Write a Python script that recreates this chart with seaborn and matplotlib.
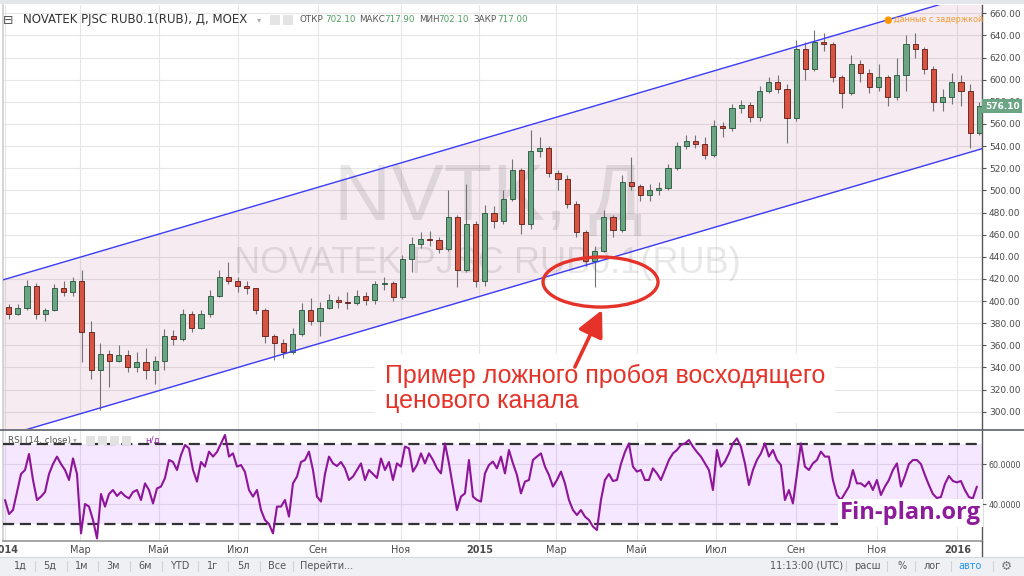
import numpy as np
import pandas as pd
import matplotlib
matplotlib.use("Agg")
import matplotlib.pyplot as plt
from matplotlib.patches import Ellipse, Rectangle
from matplotlib.lines import Line2D
import seaborn as sns

# NOVATEK (NVTK, MOEX), weekly candles, Jan 2014 - Jan 2016
first_open = 395.0
closes = [388, 394, 414, 388, 392, 412, 408, 418, 372, 338,
          352, 346, 351, 340, 345, 338, 346, 368, 366, 388,
          376, 388, 405, 422, 418, 414, 412, 392, 368, 362,
          354, 370, 392, 382, 394, 401, 399, 398, 405, 401,
          415, 416, 404, 438, 452, 456, 455, 447, 476, 428,
          470, 418, 480, 472, 492, 518, 470, 536, 538, 516,
          510, 488, 462, 436, 445, 476, 464, 508, 504, 496,
          500, 502, 520, 540, 545, 542, 532, 558, 556, 574,
          577, 566, 590, 598, 592, 565, 628, 610, 634, 632,
          602, 588, 614, 606, 593, 602, 584, 604, 632, 628,
          610, 580, 584, 598, 590, 552, 576.1]
highs = [397, 397, 419, 416, 394, 415, 418, 422, 428, 382,
         362, 356, 360, 356, 354, 358, 350, 375, 374, 393,
         391, 392, 410, 428, 435, 422, 418, 412, 394, 370,
         366, 376, 398, 403, 399, 406, 405, 408, 410, 408,
         418, 422, 418, 442, 458, 462, 463, 458, 500, 478,
         506, 472, 487, 486, 500, 528, 520, 555, 548, 540,
         518, 514, 490, 464, 450, 482, 478, 514, 530, 506,
         506, 508, 524, 544, 550, 550, 548, 564, 562, 578,
         582, 580, 594, 602, 604, 596, 636, 634, 645, 642,
         634, 604, 622, 618, 610, 614, 604, 620, 640, 642,
         630, 612, 592, 606, 604, 596, 580]
lows = [384, 387, 392, 384, 382, 391, 405, 405, 345, 330,
        302, 322, 345, 336, 336, 330, 325, 338, 360, 364,
        372, 375, 386, 404, 415, 408, 406, 388, 362, 347,
        349, 352, 368, 378, 368, 393, 394, 393, 396, 396,
        397, 410, 400, 402, 426, 448, 450, 443, 445, 413,
        426, 413, 414, 466, 470, 490, 461, 465, 530, 512,
        500, 484, 458, 432, 413, 444, 458, 462, 500, 490,
        490, 496, 500, 518, 537, 538, 528, 530, 548, 554,
        570, 562, 563, 588, 588, 543, 563, 600, 608, 626,
        598, 574, 586, 598, 588, 590, 576, 582, 590, 620,
        605, 572, 572, 578, 576, 538, 550]
last_price = 576.10

# RSI(14), sampled about every two sessions
rsi_step_days = 2.184
rsi_values = [42, 35, 37, 46, 55, 57, 65, 52, 42, 43.7,
              46, 55, 60, 63.7, 60, 57, 52, 62.8, 55, 25.3,
              40, 38.7, 32, 22.8, 45, 38.7, 45, 47, 44, 46,
              44, 42.8, 46, 47, 42, 50.3, 47, 40.3, 47.8, 48.7,
              53, 62, 61, 57, 64.5, 69.5, 67.8, 57, 51.2, 61,
              58.7, 66.2, 63.7, 66, 70.3, 74.5, 63.7, 65.3, 58.7, 59.5,
              56, 47, 43.7, 47, 37, 32, 30, 25.3, 38.7, 38.7,
              42, 33.7, 50.3, 53.7, 61, 62, 66.2, 57, 43.7, 41.2,
              55, 63.7, 60.3, 59, 61, 57.8, 52, 53.7, 57, 60.3,
              52, 57, 55, 53, 62.8, 57, 61, 52, 60.3,
              58.7, 68.7, 67.8, 56.2, 59.5, 65.3, 60.3, 65.3, 62, 57.8,
              55.3, 70.3, 60.3, 48.7, 37, 43.7, 45.3, 62, 43.7, 42,
              41.2, 55.3, 59.5, 61.2, 57.8, 63.7, 55.3, 67, 60.3, 54.5,
              45.3, 51.2, 52, 62, 63.7, 65.3, 58.7, 54.5, 48.7, 52,
              56.2, 50.3, 42, 37, 34.5, 37, 33.7, 32, 28.7, 27,
              42, 52, 55, 51.5, 52, 60, 66, 70.3, 58.7, 56.2,
              57, 52, 52, 57.8, 55.3, 52, 57, 62, 65.3, 67,
              69.5, 70.3, 72, 68.7, 66, 63.7, 60.3, 57, 47, 67,
              58.7, 61.2, 65.3, 70.3, 72.8, 68.7, 60.3, 49.5, 57, 62,
              65.3, 70.3, 63.7, 67, 62, 59.5, 42, 47, 40.3, 55,
              70.3, 58.7, 57, 60.3, 62, 66.2, 63.7, 63.7, 52, 44.5,
              42, 45.3, 48.7, 57, 50.3, 50.3, 48.7, 51.2, 47, 52,
              44.5, 48.7, 52, 57, 60.3, 48.7, 54, 60, 62, 62,
              60, 54.5, 49.5, 45, 43, 43.5, 50, 54, 51.5, 50.8,
              51.5, 47, 43.5, 42.8, 48.7]

# ascending channel (session index, price)
channel_days = [-2, 534]
channel_low = [277.2, 537.9]
channel_high = [418.7, 679.4]

price_ticks = list(range(300, 661, 20))
month_names = {1: None, 3: "Мар", 5: "Май", 7: "Июл", 9: "Сен", 11: "Ноя"}

sns.set_theme(style="white")
plt.rcParams["font.family"] = ["DejaVu Sans"]

W, H = 1024, 576
def fx(px):
    return px / W
def fy(py):
    return 1 - py / H

days = pd.bdate_range("2014-01-03", periods=560)
tick_pos, tick_lab = [], []
for year in (2014, 2015, 2016):
    for m, name in month_names.items():
        d = pd.Timestamp(year, m, 1)
        if d > pd.Timestamp(2016, 1, 31):
            continue
        tick_pos.append(int(days.searchsorted(d)))
        tick_lab.append(str(year) if name is None else name)

fig = plt.figure(figsize=(10.24, 5.76), dpi=100)
ax = fig.add_axes([fx(3), fy(429), (982 - 3) / W, 424 / H])
ax2 = fig.add_axes([fx(3), fy(541), (982 - 3) / W, 110 / H])

xmin, xmax = -1.1, 533.5
grid_c = "#e6e6e6"

# ---- price pane ----
o = np.array([first_open] + closes[:-1], dtype=float)
c = np.array(closes, dtype=float)
centers = np.arange(len(c)) * 5 + 2
up = c >= o
body_col = np.where(up, "#6ba583", "#d75442")
edge_col = np.where(up, "#225437", "#5b1a13")
ax.fill_between(channel_days, channel_low, channel_high, color="#a03c78",
                alpha=0.1, lw=0, zorder=1)
ax.vlines(centers, lows, highs, color="#737375", lw=0.8, zorder=3)
ax.bar(centers, np.maximum(np.abs(c - o), 0.8), bottom=np.minimum(o, c), width=2.8,
       color=body_col, edgecolor=edge_col, linewidth=0.6, zorder=4)
ax.plot(channel_days, channel_low, color="#3b3bf5", lw=1.0, zorder=5)
ax.plot(channel_days, channel_high, color="#3b3bf5", lw=1.0, zorder=5)

ax.set_xlim(xmin, xmax)
ax.set_ylim(284.4, 667.5)
ax.set_xticks(tick_pos)
ax.set_yticks(price_ticks)
ax.set_yticklabels([f"{v:.2f}" for v in price_ticks])
ax.yaxis.tick_right()
ax.tick_params(axis="y", right=True, length=3, width=0.8, color="#555555",
               labelsize=6.5, labelcolor="#4a4a4a", pad=2)
ax.tick_params(axis="x", bottom=False, labelbottom=False)
ax.grid(True, color=grid_c, lw=0.8)
ax.set_axisbelow(True)
for s in ("top", "bottom"):
    ax.spines[s].set_visible(False)
ax.spines["left"].set_color("#d0d0d0")
ax.spines["right"].set_color("#555555")
ax.spines["right"].set_linewidth(1.0)

# watermark
ax.text(fx(488), fy(220), "NVTK, Д", transform=fig.transFigure, ha="center",
        va="baseline", fontsize=57, family=["Liberation Sans"], color=(0, 0, 0, 0.09),
        zorder=2)
ax.text(fx(487), fy(273), "NOVATEK PJSC RUB0.1(RUB)", transform=fig.transFigure,
        ha="center", va="baseline", fontsize=26, family=["Liberation Sans"],
        color=(0, 0, 0, 0.09), zorder=2)

# false breakout annotation
red = "#e5332a"
ax.text(fx(385), fy(364), "Пример ложного пробоя восходящего\nценового канала",
        transform=fig.transFigure, fontsize=18, color=red, family=["Liberation Sans"],
        ha="left", va="top", linespacing=1.05, zorder=6, clip_on=False,
        bbox=dict(boxstyle="square,pad=0.4", facecolor="white", edgecolor="none"))
ax.add_patch(Ellipse((325.2, 417.2), 62.8, 45.2, fill=False, edgecolor=red,
                     lw=2.4, zorder=7, clip_on=False))
ax.annotate("", xy=(326.0, 391.9), xytext=(311.2, 340.4),
            arrowprops=dict(arrowstyle="-|>,head_length=1.0,head_width=0.5",
                            mutation_scale=16, lw=2.6, color=red,
                            shrinkA=0, shrinkB=0), zorder=8)

# last price tag
ax.text(1.003, last_price, f"{last_price:.2f}", transform=ax.get_yaxis_transform(),
        ha="left", va="center", fontsize=6.5, color="white", fontweight="bold",
        bbox=dict(boxstyle="square,pad=0.3", facecolor="#6ba583", edgecolor="none"),
        zorder=10, clip_on=False)

# ---- RSI pane ----
rsi_days = np.arange(len(rsi_values)) * rsi_step_days
ax2.axhspan(30, 70, color="#9915ff", alpha=0.1, lw=0, zorder=1)
sns.lineplot(x=rsi_days, y=rsi_values, ax=ax2, color="#8e1599", linewidth=1.5,
             zorder=4)
for lvl in (70, 30):
    ax2.axhline(lvl, color="#333333", lw=1.6, ls=(0, (5, 2.6)), zorder=3)
ax2.set_xlim(xmin, xmax)
ax2.set_ylim(21.5, 76.5)
ax2.set_yticks([40, 60])
ax2.set_yticklabels(["40.0000", "60.0000"])
ax2.yaxis.tick_right()
ax2.tick_params(axis="y", right=True, length=3, width=0.8, color="#555555",
                labelsize=5.8, labelcolor="#4a4a4a", pad=2)
ax2.set_xticks(tick_pos)
ax2.set_xticklabels(tick_lab)
ax2.tick_params(axis="x", bottom=False, length=0, labelsize=7, labelcolor="#4a4a4a", pad=3)
for lbl in ax2.get_xticklabels():
    if lbl.get_text().isdigit():
        lbl.set_fontweight("bold")
ax2.grid(True, color=grid_c, lw=0.8)
ax2.set_axisbelow(True)
ax2.set_xlabel("")
ax2.set_ylabel("")
ax2.spines["top"].set_visible(False)
ax2.spines["left"].set_color("#d0d0d0")
ax2.spines["bottom"].set_color("#9a9a9a")
ax2.spines["right"].set_color("#555555")
ax2.spines["right"].set_linewidth(1.0)

# ---- frame, header, toolbars ----
fig.add_artist(Line2D([0, 1], [fy(430), fy(430)], color="#5d606b", lw=1.2))
fig.add_artist(Line2D([fx(982), fx(982)], [fy(541), fy(557)], color="#555555", lw=1.0))
fig.patches.append(Rectangle((0, fy(4)), 1, 4 / H, transform=fig.transFigure,
                             facecolor="#e3e6ea", edgecolor="none"))
fig.patches.append(Rectangle((0, 0), 1, 19 / H, transform=fig.transFigure,
                             facecolor="#eef0f4", edgecolor="none"))
fig.add_artist(Line2D([0, 1], [fy(557), fy(557)], color="#d3d6db", lw=0.8))

fig.text(fx(3), fy(20), "⊟", fontsize=9, color="#555555", va="center")
fig.text(fx(23), fy(20), "NOVATEK PJSC RUB0.1(RUB), Д, MOEX", fontsize=8.5,
         color="#333333", va="center")
fig.text(fx(257), fy(20), "▾", fontsize=6, color="#aaaaaa", va="center")
for px in (270, 283):
    fig.patches.append(Rectangle((fx(px), fy(25)), 10 / W, 10 / H, transform=fig.transFigure,
                                 facecolor="#e4e4e4", edgecolor="none"))
ohlc_parts = [("ОТКР", 300, "#555555"), ("702.10", 325, "#4f9f62"),
              ("МАКС", 359, "#555555"), ("717.90", 384, "#4f9f62"),
              ("МИН", 419, "#555555"), ("702.10", 438, "#4f9f62"),
              ("ЗАКР", 473, "#555555"), ("717.00", 497, "#4f9f62")]
for txt, px, col in ohlc_parts:
    fig.text(fx(px), fy(20), txt, fontsize=6.3, color=col, va="center")

fig.text(fx(888), fy(20), "●", fontsize=7, color="#ff9800", va="center", ha="center")
fig.text(fx(894), fy(20), "данные с задержкой", fontsize=5.8, color="#f39c34", va="center")

fig.text(fx(8), fy(440), "RSI (14, close)", fontsize=6.3, color="#555555", va="center")
fig.text(fx(73), fy(440), "▾", fontsize=5.5, color="#aaaaaa", va="center")
for px in (86, 98, 110, 122):
    fig.patches.append(Rectangle((fx(px), fy(445)), 9 / W, 9 / H, transform=fig.transFigure,
                                 facecolor="#e2e2e2", edgecolor="none"))
fig.text(fx(145), fy(440), "н/д", fontsize=6.3, color="#9c27b0", va="center")

fig.text(fx(840), fy(513), "Fin-plan.org", fontsize=17, fontweight="bold",
         family=["Open Sans", "DejaVu Sans"], color="#8e1a9c", ha="left", va="center",
         bbox=dict(boxstyle="square,pad=0.1", facecolor="white", edgecolor="none"))

ty = fy(566)
for txt, px in [("1д", 20), ("5д", 50), ("1м", 82), ("3м", 113), ("6м", 145),
                ("YTD", 180), ("1г", 213), ("5л", 243), ("Все", 277), ("Перейти...", 327)]:
    fig.text(fx(px), ty, txt, fontsize=7, color="#555555", ha="center", va="center")
for px in (35, 67, 98, 130, 162, 198, 228, 260, 293, 846, 887, 915, 951, 993):
    fig.add_artist(Line2D([fx(px), fx(px)], [fy(561), fy(571)], color="#cfd2d7", lw=0.8))
for txt, px, col in [("11:13:00 (UTC)", 807, "#555555"), ("расш", 867, "#555555"),
                     ("%", 902, "#555555"), ("лог", 932, "#555555"),
                     ("авто", 970, "#2196f3"), ("⚙", 1006, "#777777")]:
    fig.text(fx(px), ty, txt, fontsize=7 if txt != "⚙" else 9, color=col,
             ha="center", va="center")

fig.savefig("out.png", dpi=100)
